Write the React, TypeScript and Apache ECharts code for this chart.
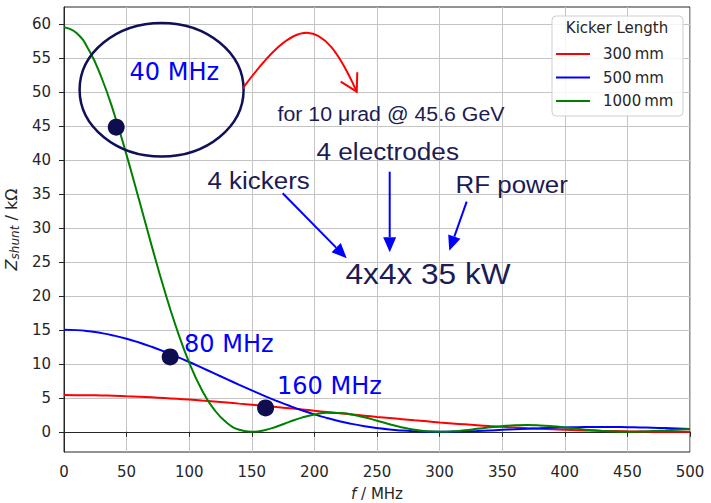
import React, { useEffect, useRef } from "react";
import * as echarts from "echarts";

// Frequency samples (MHz)
const freq = [0, 10, 20, 30, 40, 50, 60, 70, 80, 90, 100, 110, 120, 130, 140, 150, 160, 170, 180, 190, 200,
  210, 220, 230, 240, 250, 260, 270, 280, 290, 300, 310, 320, 330, 340, 350, 360, 370, 380, 390, 400,
  410, 420, 430, 440, 450, 460, 470, 480, 490, 500];

// Shunt impedance (kOhm)
const z300 = [5.4, 5.39, 5.37, 5.34, 5.29, 5.22, 5.15, 5.06, 4.96, 4.85, 4.73, 4.59, 4.45, 4.3, 4.14, 3.98, 3.81, 3.63, 3.46, 3.28, 3.09,
  2.91, 2.73, 2.55, 2.37, 2.19, 2.02, 1.85, 1.68, 1.53, 1.37, 1.23, 1.09, 0.96, 0.84, 0.73, 0.63, 0.53, 0.44, 0.37, 0.3,
  0.23, 0.18, 0.13, 0.1, 0.06, 0.04, 0.02, 0.01, 0.0, 0.0];
const z500 = [15, 14.95, 14.78, 14.51, 14.14, 13.68, 13.13, 12.5, 11.8, 11.05, 10.26, 9.43, 8.59, 7.74, 6.9, 6.08, 5.28, 4.53, 3.82, 3.16, 2.56,
  2.03, 1.56, 1.16, 0.82, 0.55, 0.33, 0.18, 0.08, 0.02, 0.0, 0.02, 0.06, 0.12, 0.2, 0.28, 0.36, 0.45, 0.52, 0.59, 0.64,
  0.68, 0.7, 0.71, 0.7, 0.68, 0.64, 0.59, 0.54, 0.48, 0.41];
const z1000 = [59.5, 58.64, 56.1, 52.07, 46.82, 40.69, 34.08, 27.38, 20.96, 15.15, 10.17, 6.19, 3.25, 1.33, 0.3, 0.0, 0.23, 0.78, 1.45, 2.08, 2.54,
  2.78, 2.77, 2.54, 2.13, 1.63, 1.11, 0.64, 0.29, 0.07, 0.0, 0.06, 0.22, 0.43, 0.65, 0.83, 0.95, 0.98, 0.93, 0.81, 0.64,
  0.45, 0.27, 0.12, 0.03, 0.0, 0.03, 0.1, 0.2, 0.31, 0.41];

// Marked operating points
const dotFreq = [41.7, 84.8, 161];
const dotZ = [44.8, 11.0, 3.5];

const seriesNames = ["300\u2009mm", "500\u2009mm", "1000\u2009mm"];
const seriesColors = ["#ff0000", "#0000ff", "#008000"];
const yTicks = [0, 5, 10, 15, 20, 25, 30, 35, 40, 45, 50, 55, 60];

const NAVY = "#1b1b55";
const DOT = "#0d0d4f";
const FONT = "DejaVu Sans";
const ARIAL = "Liberation Sans";

function arrow(x1: number, y1: number, x2: number, y2: number, color: string, headLen = 15, headW = 13) {
  const dx = x2 - x1, dy = y2 - y1;
  const L = Math.hypot(dx, dy);
  const ux = dx / L, uy = dy / L;
  const bx = x2 - ux * headLen, by = y2 - uy * headLen;
  const px = -uy, py = ux;
  return [
    { type: "line", z: 10, shape: { x1, y1, x2: bx, y2: by }, style: { stroke: color, lineWidth: 2 } },
    {
      type: "polygon", z: 10,
      shape: { points: [[x2, y2], [bx + (px * headW) / 2, by + (py * headW) / 2], [bx - (px * headW) / 2, by - (py * headW) / 2]] },
      style: { fill: color },
    },
  ];
}

function label(text: string, x: number, y: number, size: number, color: string, family: string, scaleX = 1) {
  return {
    type: "text", z: 10, x, y, scaleX,
    style: { text, x: 0, y: 0, fontSize: size, fontFamily: family, fill: color, align: "left", verticalAlign: "middle" },
  };
}

export default function App() {
  const ref = useRef<HTMLDivElement>(null);
  useEffect(() => {
    if (!ref.current) return;
    const chart = echarts.init(ref.current, null, { renderer: "svg" });
    const lineData = [z300, z500, z1000];
    const option: any = {
      animation: false,
      backgroundColor: "#ffffff",
      grid: {
        left: 64, top: 7, width: 626, height: 445, containLabel: false, outerBoundsMode: "none",
        show: true, borderColor: "#262626", borderWidth: 1, backgroundColor: "transparent",
      },
      xAxis: {
        type: "value", min: 0, max: 500, interval: 50,
        name: "{i|f}{n| / MHz}", nameLocation: "middle", nameGap: 34,
        nameTextStyle: { color: "#262626", fontFamily: FONT, fontSize: 15, rich: { i: { fontStyle: "italic", fontSize: 15, fontFamily: FONT }, n: { fontSize: 15, fontFamily: FONT } } },
        axisLine: { show: true, lineStyle: { color: "#262626", width: 1 } },
        axisTick: { show: true, length: 5, lineStyle: { color: "#262626" } },
        axisLabel: { color: "#262626", fontFamily: FONT, fontSize: 15, margin: 12 },
        splitLine: { show: true, lineStyle: { color: "#c4c4c4", width: 1 } },
      },
      yAxis: {
        type: "value", min: -2.975, max: 62.475,
        name: "{z|Z}{s|shunt}{n| / kΩ}", nameLocation: "middle", nameGap: 43, nameRotate: 90,
        nameTextStyle: {
          color: "#262626", fontFamily: FONT, fontSize: 16,
          rich: {
            z: { fontStyle: "italic", fontSize: 16, fontFamily: FONT },
            s: { fontStyle: "italic", fontSize: 12, fontFamily: FONT, padding: [8, 0, 0, 0] },
            n: { fontSize: 16, fontFamily: FONT },
          },
        },
        axisLine: { show: true, lineStyle: { color: "#262626", width: 1 } },
        axisTick: { show: true, length: 5, lineStyle: { color: "#262626" }, customValues: yTicks },
        axisLabel: { color: "#262626", fontFamily: FONT, fontSize: 15, margin: 13, customValues: yTicks },
        splitLine: { show: true, lineStyle: { color: "#c4c4c4", width: 1 } },
      },
      legend: {
        orient: "vertical", left: 556, top: 45, padding: 0,
        icon: "rect",
        itemWidth: 34, itemHeight: 2, itemGap: 5.5,
        data: seriesNames,
        textStyle: { color: "#262626", fontFamily: FONT, fontSize: 15, lineHeight: 18, padding: [0, 0, 0, 8] },
      },
      series: [
        ...lineData.map((vals, k) => ({
          name: seriesNames[k], type: "line", smooth: true, symbol: "none", z: 2,
          lineStyle: { color: seriesColors[k], width: 2 }, itemStyle: { color: seriesColors[k] },
          data: freq.map((f, i) => [f, vals[i]]),
        })),
        {
          name: "points", type: "scatter", symbolSize: 17, z: 5,
          itemStyle: { color: DOT, opacity: 1 },
          data: dotFreq.map((f, i) => [f, dotZ[i]]),
        },
      ],
      graphic: [
        { type: "rect", z: 3, shape: { x: 552, y: 16, width: 131, height: 100, r: 4 }, style: { fill: "rgba(255,255,255,0.85)", stroke: "#cfcfcf", lineWidth: 1 } },
        { type: "text", z: 5, x: 617, y: 28, style: { text: "Kicker Length", x: 0, y: 0, fontSize: 15, fontFamily: FONT, fill: "#262626", align: "center", verticalAlign: "middle" } },
        { type: "ellipse", z: 10, shape: { cx: 161.6, cy: 89.8, rx: 82, ry: 66.8 }, style: { fill: "none", stroke: "#101058", lineWidth: 2.5 } },
        { type: "bezierCurve", z: 10, shape: { x1: 242.7, y1: 88.3, cpx1: 297.4, cpy1: 15.4, cpx2: 320.7, cpy2: 11.8, x2: 356.7, y2: 91.7 }, style: { fill: "none", stroke: "#ff0000", lineWidth: 2 } },
        { type: "polyline", z: 10, shape: { points: [[340.7, 81.7], [356.7, 91.7], [357.3, 72.3]] }, style: { fill: "none", stroke: "#ff0000", lineWidth: 2 } },
        ...arrow(282.7, 193.3, 346.7, 258.3, "#0000ff"),
        ...arrow(389.7, 171.7, 389.7, 252.3, "#0000ff"),
        ...arrow(466.7, 201.7, 449.3, 250.7, "#0000ff"),
        label("40 MHz", 129.5, 71.7, 24, "#0000ff", FONT),
        label("80 MHz", 184, 344.3, 24, "#0000ff", FONT),
        label("160 MHz", 277, 386.3, 24, "#0000ff", FONT),
        label("for 10 μrad @ 45.6 GeV", 277.5, 113.8, 20, NAVY, ARIAL, 1.066),
        label("4 electrodes", 316.5, 151.4, 24, NAVY, ARIAL, 1.09),
        label("4 kickers", 207.5, 180.5, 24, NAVY, ARIAL, 1.08),
        label("RF power", 455.5, 184.6, 24, NAVY, ARIAL, 1.08),
        label("4x4x 35 kW", 345.5, 273.6, 29, NAVY, ARIAL, 1.09),
      ],
    };
    chart.setOption(option);
    return () => chart.dispose();
  }, []);
  return <div ref={ref} style={{ position: "fixed", left: 0, top: 0, width: 711, height: 503 }} />;
}
